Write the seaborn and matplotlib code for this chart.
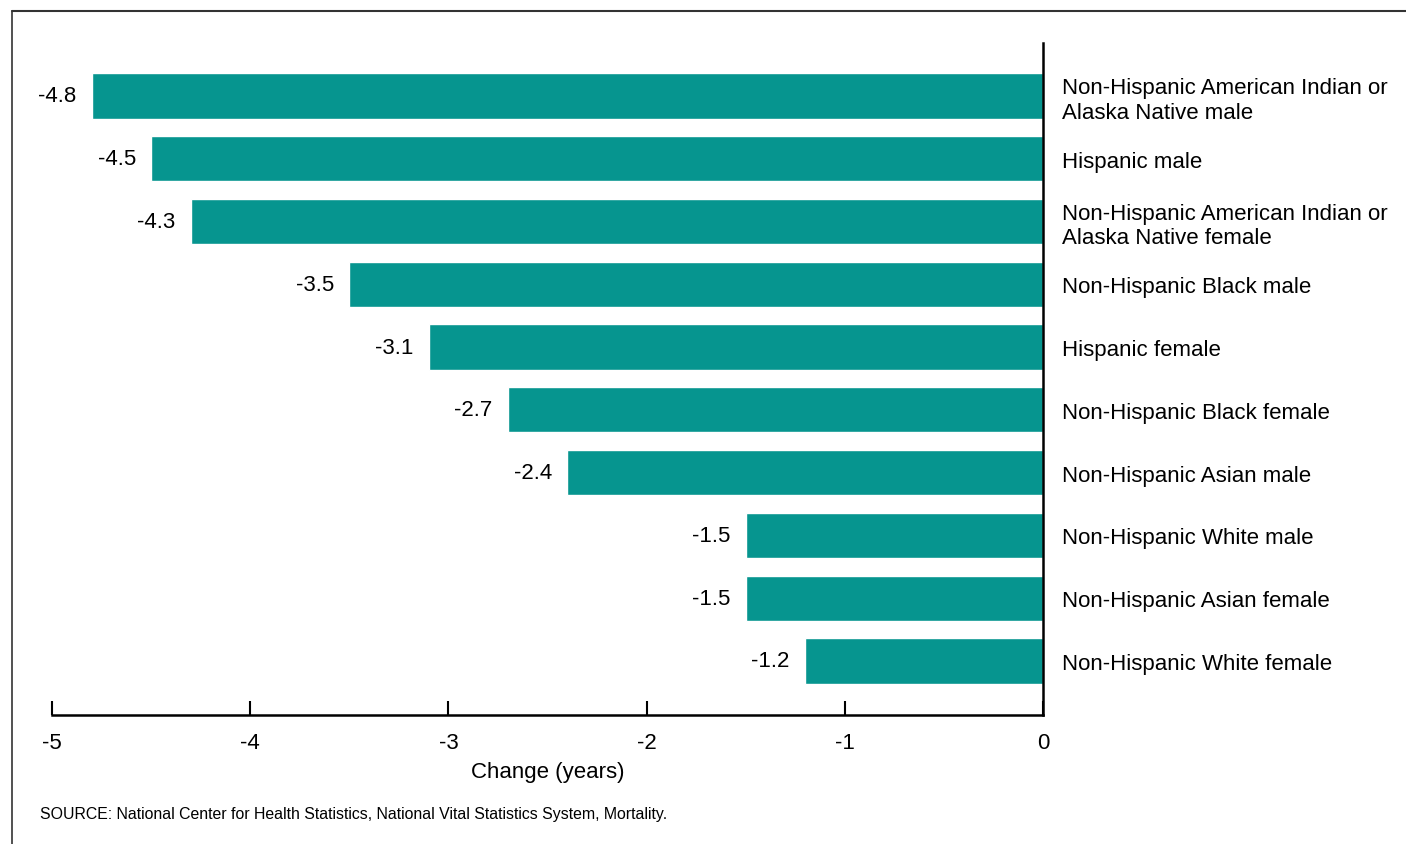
import pandas as pd
import seaborn as sns
import matplotlib.pyplot as plt
from matplotlib.lines import Line2D

groups = ['Non-Hispanic American Indian or\nAlaska Native male',
          'Hispanic male',
          'Non-Hispanic American Indian or\nAlaska Native female',
          'Non-Hispanic Black male',
          'Hispanic female',
          'Non-Hispanic Black female',
          'Non-Hispanic Asian male',
          'Non-Hispanic White male',
          'Non-Hispanic Asian female',
          'Non-Hispanic White female']
change = [-4.8, -4.5, -4.3, -3.5, -3.1, -2.7, -2.4, -1.5, -1.5, -1.2]
xticks = [-5, -4, -3, -2, -1, 0]

df = pd.DataFrame({'group': groups, 'change': change})

sns.set_style('white')
plt.rcParams['font.family'] = ['Liberation Sans', 'DejaVu Sans']
plt.rcParams['text.color'] = 'black'
plt.rcParams['xtick.color'] = 'black'
plt.rcParams['ytick.color'] = 'black'
plt.rcParams['axes.labelcolor'] = 'black'

fig = plt.figure(figsize=(14.06, 8.45), dpi=100)
ax = fig.add_axes([0.037, 0.1527, 0.7048, 0.7953])

sns.barplot(data=df, x='change', y='group', orient='h', color='#06958f',
            saturation=1, width=0.72, ax=ax)

ax.set_xlim(-5, 0)
ax.set_ylim(9.86, -0.844)

# valores a la izquierda de cada barra
for i, v in enumerate(change):
    ax.annotate(f'{v:.1f}', xy=(v, i), xytext=(-11, 0), textcoords='offset points',
                ha='right', va='center', fontsize=16)

ax.set_xticks(xticks)
ax.set_xticklabels([str(t) for t in xticks], fontsize=16)
ax.tick_params(axis='x', direction='in', length=10, width=1.5, pad=12, bottom=True)
ax.set_xlabel('Change (years)', fontsize=16, labelpad=6)

ax.yaxis.tick_right()
ax.tick_params(axis='y', length=0, pad=14, labelsize=16)
ax.set_ylabel('')

for s in ['top', 'left']:
    ax.spines[s].set_visible(False)
for s in ['bottom', 'right']:
    ax.spines[s].set_color('black')
    ax.spines[s].set_linewidth(1.8)

# marco de la figura
fig.add_artist(Line2D([12/1406, 1], [1 - 12/845, 1 - 12/845], color='#333333', lw=1.5, transform=fig.transFigure))
fig.add_artist(Line2D([12/1406, 12/1406], [0, 1 - 12/845], color='#333333', lw=1.2, transform=fig.transFigure))

fig.text(40/1406, 1 - 815/845, 'SOURCE: National Center for Health Statistics, National Vital Statistics System, Mortality.',
         fontsize=11.4, va='center', ha='left')

fig.savefig('out.png', dpi=100)
